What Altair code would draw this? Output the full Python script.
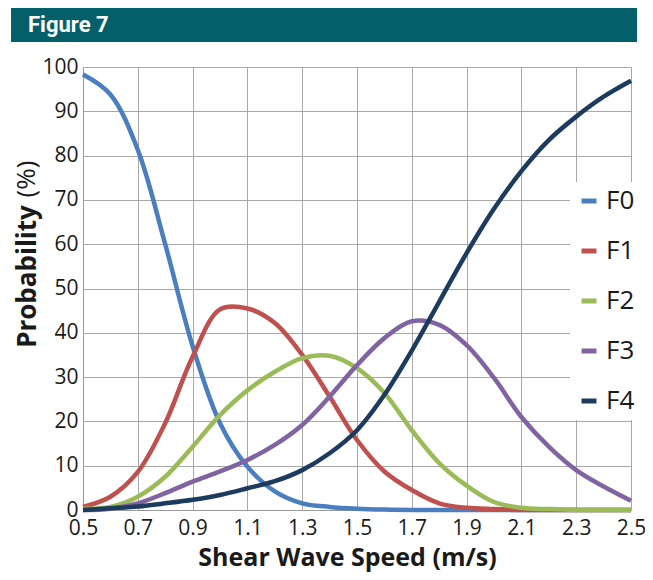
import altair as alt
import pandas as pd

speed = [0.5, 0.6, 0.7, 0.8, 0.9, 1.0, 1.1, 1.2, 1.3, 1.4, 1.5,
         1.6, 1.7, 1.8, 1.9, 2.0, 2.1, 2.2, 2.3, 2.4, 2.5]
f0 = [98.3, 93.8, 81.3, 60, 37, 19.6, 9.8, 4.2, 1.5, 0.7, 0.3,
      0.1, 0, 0, 0, 0, 0, 0, 0, 0, 0]
f1 = [0.7, 3, 8.6, 19.6, 34.6, 45.3, 45.5, 42.2, 35, 25.6, 15.8,
      8.7, 4.5, 1.5, 0.5, 0.2, 0, 0, 0, 0, 0]
f2 = [0.3, 0.7, 3, 7.5, 14.3, 21.4, 27, 31.2, 34.3, 34.8, 32,
      26.4, 18, 10.6, 5.5, 1.8, 0.5, 0.2, 0, 0, 0]
f3 = [0, 0.3, 1.5, 3.8, 6.4, 8.7, 11.3, 14.7, 19.2, 25.6, 32.7,
      38.8, 42.6, 41.8, 37.2, 29.8, 21, 14.3, 9, 5.3, 2.1]
f4 = [0, 0.4, 0.8, 1.5, 2.3, 3.4, 4.9, 6.5, 9, 12.8, 18,
      26, 36, 47, 58, 68, 76.5, 83.5, 88.8, 93.3, 96.9]

series_names = ["F0", "F1", "F2", "F3", "F4"]
series_colors = ["#4A7EBF", "#C0504D", "#9BBB59", "#8064A2", "#1D3B5E"]
x_ticks = [0.5, 0.7, 0.9, 1.1, 1.3, 1.5, 1.7, 1.9, 2.1, 2.3, 2.5]
y_ticks = [0, 10, 20, 30, 40, 50, 60, 70, 80, 90, 100]

rows = []
for name, vals in zip(series_names, [f0, f1, f2, f3, f4]):
    for x, y in zip(speed, vals):
        rows.append({"speed": x, "prob": y, "series": name})
df = pd.DataFrame(rows)

FONT = "Open Sans"
one = pd.DataFrame({"t": ["Figure 7"]})

lines = alt.Chart(df).mark_line(strokeWidth=4.5, interpolate="catmull-rom").encode(
    x=alt.X("speed:Q",
            scale=alt.Scale(domain=[0.5, 2.5], nice=False, zero=False),
            axis=alt.Axis(values=x_ticks, format=".1f", title="Shear Wave Speed (m/s)",
                          grid=True, gridColor="#A8A8A8", gridWidth=1,
                          ticks=False, domainColor="#999999",
                          labelFont=FONT, labelFontSize=21, labelColor="#1a1a1a",
                          labelPadding=7, labelFlush=False,
                          titleFont=FONT, titleFontSize=25, titleFontWeight="bold",
                          titleColor="#1a1a1a", titleX=264, titleY=55,
                          titleBaseline="alphabetic")),
    y=alt.Y("prob:Q",
            scale=alt.Scale(domain=[0, 100], nice=False),
            axis=alt.Axis(values=y_ticks, title="Probability",
                          grid=True, gridColor="#A8A8A8", gridWidth=1,
                          ticks=False, domainColor="#999999",
                          labelFont=FONT, labelFontSize=21, labelColor="#1a1a1a",
                          labelPadding=5,
                          titleFont=FONT, titleFontSize=26, titleFontWeight="bold",
                          titleColor="#1a1a1a", titleX=-56, titleY=209,
                          titleAngle=270, titleAlign="center",
                          titleBaseline="middle")),
    color=alt.Color("series:N",
                    scale=alt.Scale(domain=series_names, range=series_colors),
                    legend=alt.Legend(title=None, orient="none", legendX=487, legendY=115,
                                      fillColor="white", padding=6,
                                      symbolType="stroke", symbolStrokeWidth=5,
                                      symbolSize=225, labelFont=FONT, labelFontSize=26,
                                      labelColor="#1a1a1a", labelOffset=4,
                                      rowPadding=24)),
    order=alt.Order("speed:Q"),
)

pct = alt.Chart(one).mark_text(text="(%)", font=FONT, fontSize=26, angle=270,
                               align="center", baseline="middle",
                               color="#1a1a1a").encode(
    x=alt.value(-56), y=alt.value(112))

bar = alt.Chart(one).mark_rect(color="#03606B").encode(
    x=alt.value(-72), x2=alt.value(554), y=alt.value(-59), y2=alt.value(-25))

fig = alt.Chart(one).mark_text(font="Roboto", fontSize=22,
                               fontWeight="bold", color="white", align="left",
                               baseline="alphabetic").encode(
    text="t:N", x=alt.value(-55), y=alt.value(-35))

chart = alt.layer(bar, fig, lines, pct).properties(
    width=548, height=443,
    autosize=alt.AutoSizeParams(type="none"),
    padding={"left": 75, "top": 59, "right": 14, "bottom": 62},
).configure_view(strokeWidth=0)

chart.save("out.html", embed_options={"renderer": "svg", "actions": False})
